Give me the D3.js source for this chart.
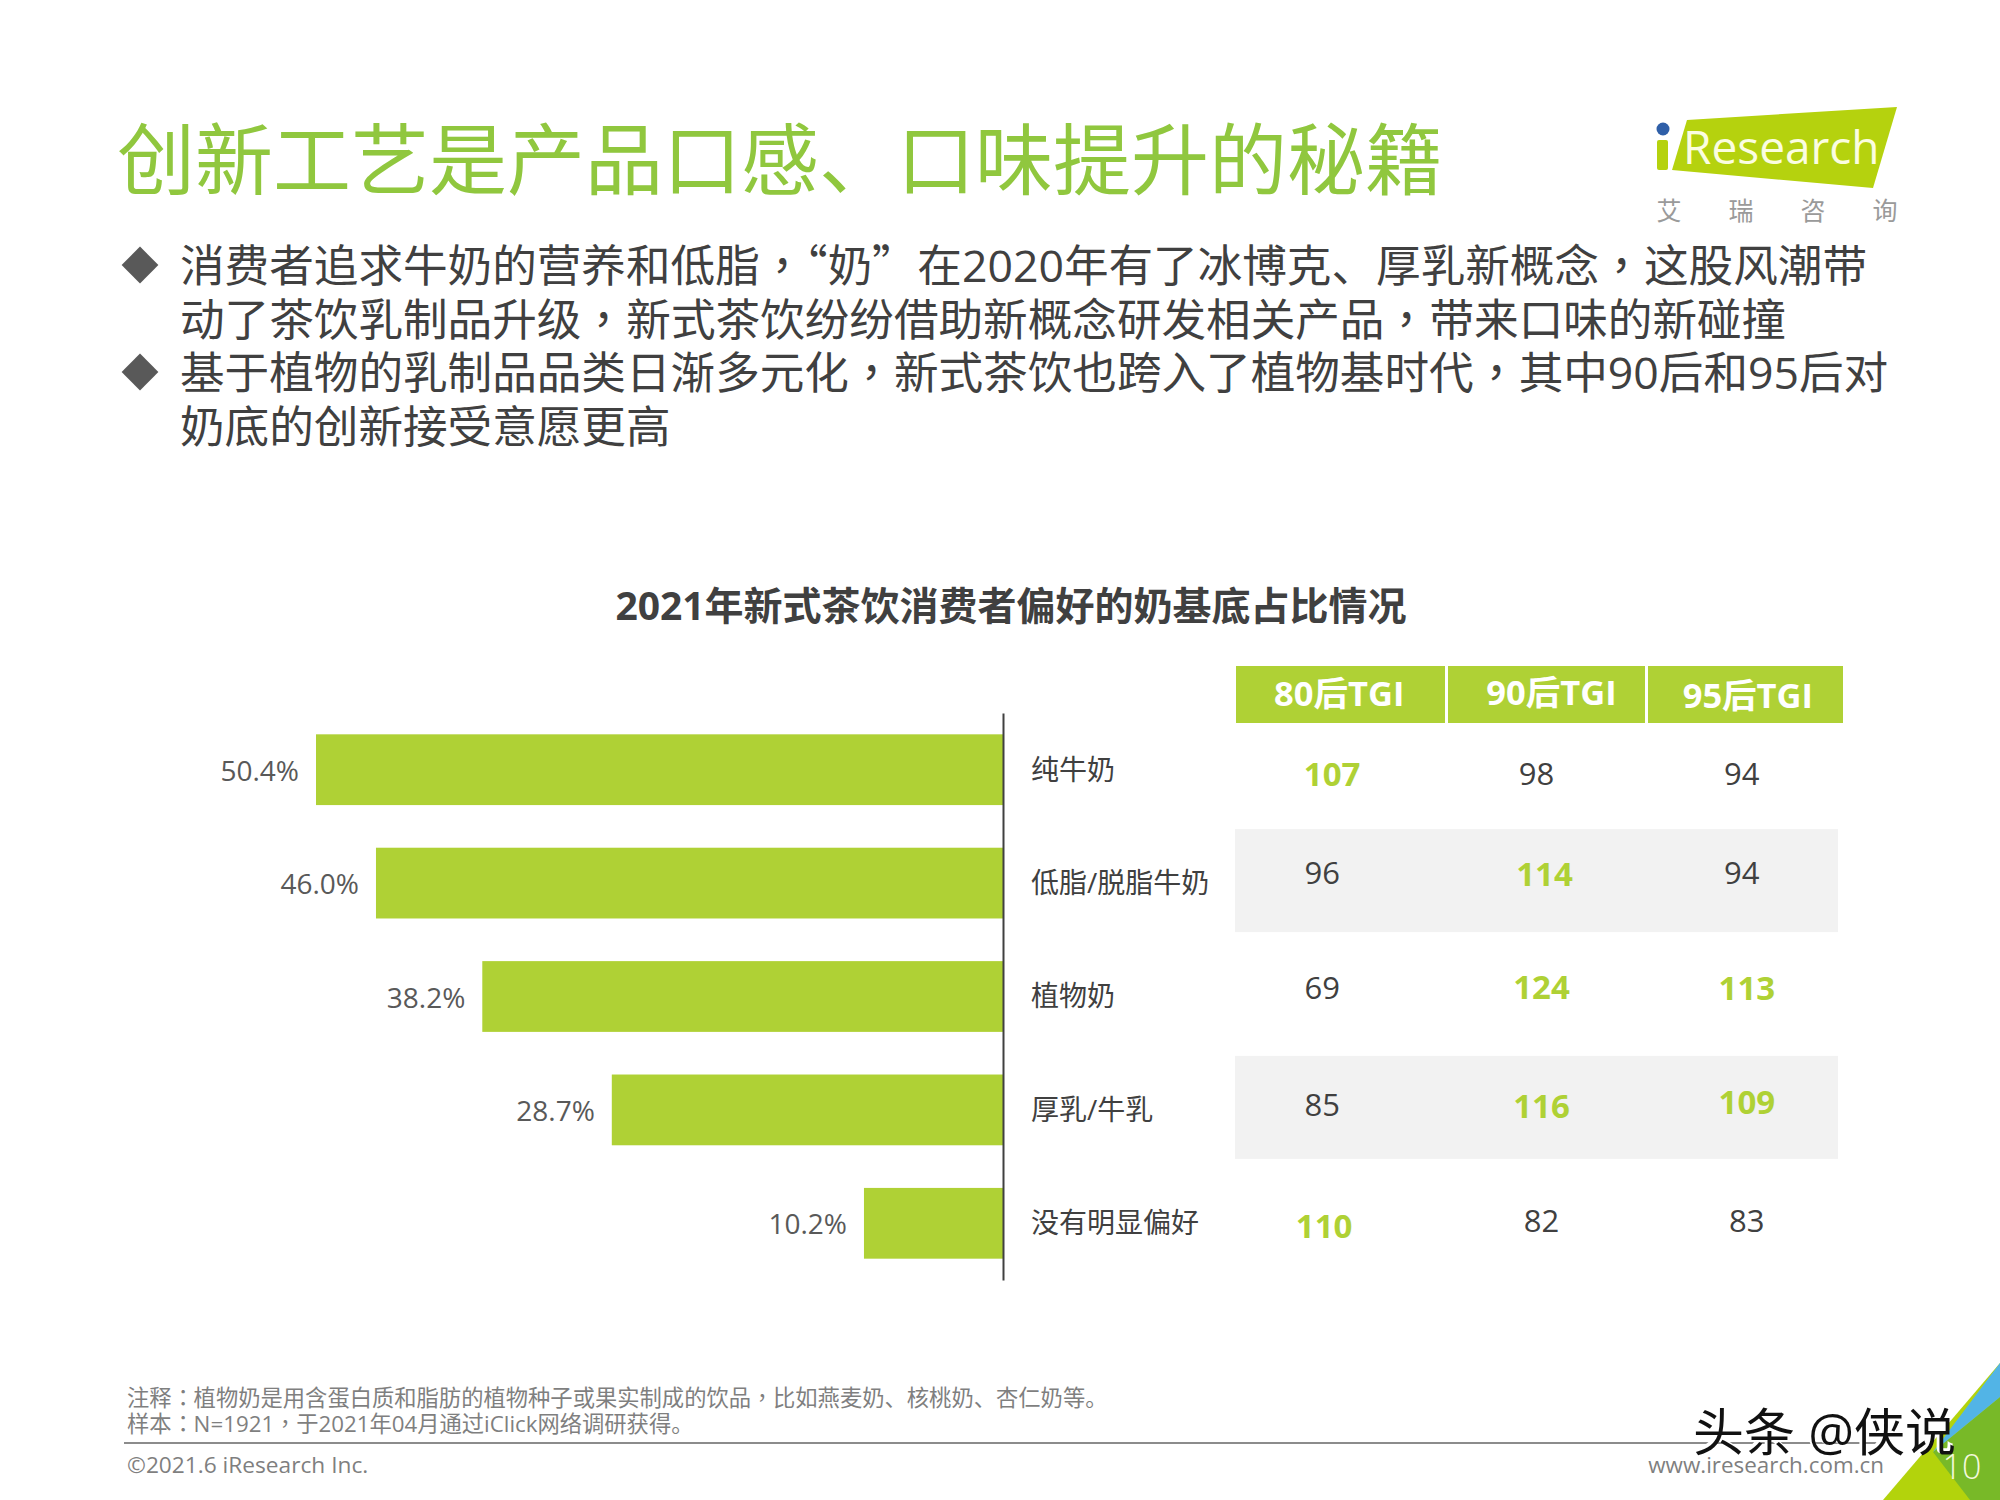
<!DOCTYPE html>
<html>
<head>
<meta charset="utf-8">
<style>
    /* the comma and colon sit centred in the cell, the quotes are full width */
    @font-face { font-family: "CentredPunct"; src: local("Noto Sans CJK TC"); unicode-range: U+FF0C, U+FF1A; }
    @font-face { font-family: "WideQuote"; src: local("Noto Sans CJK SC"); unicode-range: U+2018-201D; }
    html, body { margin: 0; padding: 0; background: #fff; }
    svg { display: block; }
    text { font-family: "CentredPunct", "WideQuote", "Open Sans", "Noto Sans CJK SC", sans-serif; }
</style>
<script src="https://cdn.jsdelivr.net/npm/d3@7/dist/d3.min.js"></script>
</head>
<body>
<svg class="chart" width="2000" height="1500"></svg>
<script>
'use strict';

// chart data
var categories = ["纯牛奶", "低脂/脱脂牛奶", "植物奶", "厚乳/牛乳", "没有明显偏好"];
var shares = [50.4, 46.0, 38.2, 28.7, 10.2];
var tgiColumns = ["80后TGI", "90后TGI", "95后TGI"];
var tgi80 = [107, 96, 69, 85, 110];
var tgi90 = [98, 114, 124, 116, 82];
var tgi95 = [94, 94, 113, 109, 83];

// page text
var pageTitle = "创新工艺是产品口感、口味提升的秘籍";
var chartTitle = "2021年新式茶饮消费者偏好的奶基底占比情况";
var bulletLines = [
    "消费者追求牛奶的营养和低脂，“奶”在2020年有了冰博克、厚乳新概念，这股风潮带",
    "动了茶饮乳制品升级，新式茶饮纷纷借助新概念研发相关产品，带来口味的新碰撞",
    "基于植物的乳制品品类日渐多元化，新式茶饮也跨入了植物基时代，其中90后和95后对",
    "奶底的创新接受意愿更高"
];
var footnotes = [
    "注释：植物奶是用含蛋白质和脂肪的植物种子或果实制成的饮品，比如燕麦奶、核桃奶、杏仁奶等。",
    "样本：N=1921，于2021年04月通过iClick网络调研获得。"
];

var GREEN = "#afd135";
var TITLE_GREEN = "#90c73e";
var TEXT_DARK = "#404040";
var TEXT_GREY = "#7f7f7f";
var AXIS_X = 1003;
var FONT_STACK = '"CentredPunct", "WideQuote", "Open Sans", "Noto Sans CJK SC", sans-serif';

// the table in the picture is hand placed, so each label keeps a small [dx, dy]
var cellNudge = [
    [[-4, 4], [-14, -10], [-14, -9], [-14, -5], [-12, 3]],
    [[-3, 4], [5, -9], [2, -9], [2, -4], [2, -2]],
    [[-1, 4], [-1, -10], [4, -8], [4, -8], [4, -2]]
];
var headerNudge = [[3, -1], [12, -2], [5, 1]];
var headerEdges = [[1236, 1445], [1448, 1645], [1648, 1843]];

var svg = d3.select(".chart");

// scales
var xScale = d3.scaleLinear().domain([0, 50.4]).range([AXIS_X, 316]);
var yScale = d3.scaleBand().domain(categories).range([713, 1280]).paddingInner(0.376).paddingOuter(0.188);
var colScale = d3.scaleBand().domain(tgiColumns).range([1236, 1843]).paddingInner(0.015);

renderHeader();
renderBullets();
renderChart();
renderTable();
renderFooter();

/**
 * Render title and the iResearch logo
 */
function renderHeader() {
    svg.append("text")
        .attr("x", 117).attr("y", 189)
        .attr("font-size", 78).attr("fill", TITLE_GREEN)
        .text(pageTitle);

    var logo = svg.append("g");
    logo.append("polygon")
        .attr("points", "1687,120 1897,107 1873,188 1672,170")
        .attr("fill", "#b5d20e");
    logo.append("rect")
        .attr("x", 1657).attr("y", 140).attr("width", 11).attr("height", 30).attr("rx", 2)
        .attr("fill", "#b5d20e");
    logo.append("circle")
        .attr("cx", 1663).attr("cy", 129).attr("r", 6.5)
        .attr("fill", "#2f5fa8");
    logo.append("text")
        .attr("x", 1683).attr("y", 164)
        .attr("font-size", 46).attr("fill", "#fbfde0")
        .text("Research");
    logo.selectAll("text.cn")
        .data(["艾", "瑞", "咨", "询"])
        .enter()
        .append("text")
        .attr("class", "cn")
        .attr("x", function (d, i) { return 1669 + i * 72; })
        .attr("y", 220)
        .attr("text-anchor", "middle")
        .attr("font-size", 25).attr("fill", "#9a9a9a")
        .text(function (d) { return d; });
}

/**
 * Render the two bullet paragraphs
 */
function renderBullets() {
    svg.selectAll("text.bullet")
        .data(bulletLines)
        .enter()
        .append("text")
        .attr("class", "bullet")
        .attr("x", 180)
        .attr("y", function (d, i) { return 282 + i * 53.7; })
        .attr("font-size", 44.6).attr("fill", TEXT_DARK)
        .text(function (d) { return d; });

    svg.selectAll("path.diamond")
        .data([265, 372])
        .enter()
        .append("path")
        .attr("class", "diamond")
        .attr("transform", function (d) { return "translate(140," + d + ") rotate(45)"; })
        .attr("d", "M-13,-13H13V13H-13Z")
        .attr("fill", "#595959");
}

/**
 * Render the bars, their value labels and the category axis
 */
function renderChart() {
    svg.append("text")
        .attr("x", 1011).attr("y", 606).attr("dy", "0.36em")
        .attr("text-anchor", "middle")
        .attr("font-size", 39).attr("font-weight", 700).attr("fill", TEXT_DARK)
        .text(chartTitle);

    var rows = svg.selectAll("g.row")
        .data(categories)
        .enter()
        .append("g")
        .attr("class", "row");

    rows.append("rect")
        .attr("x", function (d, i) { return xScale(shares[i]); })
        .attr("y", function (d) { return yScale(d); })
        .attr("width", function (d, i) { return xScale(0) - xScale(shares[i]); })
        .attr("height", yScale.bandwidth())
        .attr("fill", GREEN);

    rows.append("text")
        .attr("x", function (d, i) { return xScale(shares[i]) - 17; })
        .attr("y", function (d) { return yScale(d) + yScale.bandwidth() / 2 + 1; })
        .attr("dy", "0.36em")
        .attr("text-anchor", "end")
        .attr("font-size", 28).attr("fill", "#595959")
        .text(function (d, i) { return shares[i].toFixed(1) + "%"; });

    var axis = svg.append("g")
        .attr("transform", "translate(" + AXIS_X + ",0)")
        .call(d3.axisRight(yScale).tickSize(0).tickPadding(28));
    axis.select(".domain").attr("stroke", "#404040").attr("stroke-width", 2);
    axis.selectAll("text")
        .attr("y", 1)
        .attr("font-size", 28).attr("fill", TEXT_DARK)
        .style("font-family", FONT_STACK);
}

/**
 * Render the TGI table on the right
 */
function renderTable() {
    var rowCentre = function (c) { return yScale(c) + yScale.bandwidth() / 2; };

    // grey bands on every second row
    svg.selectAll("rect.band")
        .data([categories[1], categories[3]])
        .enter()
        .append("rect")
        .attr("class", "band")
        .attr("x", 1235)
        .attr("y", function (d) { return rowCentre(d) - 54; })
        .attr("width", 603)
        .attr("height", 103)
        .attr("fill", "#f2f2f2");

    var head = svg.selectAll("g.head")
        .data(tgiColumns)
        .enter()
        .append("g")
        .attr("class", "head");

    head.append("rect")
        .attr("x", function (d, i) { return headerEdges[i][0]; })
        .attr("y", 666)
        .attr("width", function (d, i) { return headerEdges[i][1] - headerEdges[i][0]; })
        .attr("height", 57)
        .attr("fill", GREEN);

    head.append("text")
        .attr("x", function (d, i) { return colScale(d) + colScale.bandwidth() / 2 + headerNudge[i][0]; })
        .attr("y", function (d, i) { return 695 + headerNudge[i][1]; })
        .attr("dy", "0.36em")
        .attr("text-anchor", "middle")
        .attr("font-size", 34.5).attr("font-weight", 700).attr("fill", "#fff")
        .text(function (d) { return d; });

    [tgi80, tgi90, tgi95].forEach(function (values, col) {
        svg.selectAll("text.col" + col)
            .data(values)
            .enter()
            .append("text")
            .attr("class", "col" + col)
            .attr("x", function (d, i) {
                return colScale(tgiColumns[col]) + colScale.bandwidth() / 2 + cellNudge[col][i][0];
            })
            .attr("y", function (d, i) { return rowCentre(categories[i]) + cellNudge[col][i][1]; })
            .attr("dy", "0.36em")
            .attr("text-anchor", "middle")
            // values above 100 are the highlighted ones
            .attr("font-size", function (d) { return d > 100 ? 33 : 31; })
            .attr("font-weight", function (d) { return d > 100 ? 700 : 400; })
            .attr("fill", function (d) { return d > 100 ? GREEN : TEXT_DARK; })
            .text(function (d) { return d; });
    });
}

/**
 * Render notes, footer line, page corner and the watermark
 */
function renderFooter() {
    svg.selectAll("text.note")
        .data(footnotes)
        .enter()
        .append("text")
        .attr("class", "note")
        .attr("x", 127)
        .attr("y", function (d, i) { return 1406 + i * 26; })
        .attr("font-size", 22.3).attr("fill", TEXT_GREY)
        .text(function (d) { return d; });

    svg.append("line")
        .attr("x1", 124).attr("x2", 1880).attr("y1", 1443).attr("y2", 1443)
        .attr("stroke", "#8c8c8c").attr("stroke-width", 2);

    svg.append("text")
        .attr("x", 127).attr("y", 1473)
        .attr("font-size", 22.7).attr("fill", TEXT_GREY)
        .text("©2021.6 iResearch Inc.");

    svg.append("text")
        .attr("x", 1884).attr("y", 1473)
        .attr("text-anchor", "end")
        .attr("font-size", 22.4).attr("fill", TEXT_GREY)
        .text("www.iresearch.com.cn");

    // page corner
    svg.append("polygon").attr("points", "1883,1500 2000,1363 2000,1500").attr("fill", "#b3d30c");
    svg.append("polygon").attr("points", "1933,1452 2000,1397 2000,1500 1970,1500").attr("fill", "#78b928");
    svg.append("polygon").attr("points", "1933,1452 2000,1363 2000,1397").attr("fill", "#52b4e6");
    svg.append("text")
        .attr("x", 1962).attr("y", 1479)
        .attr("text-anchor", "middle")
        .attr("font-size", 34).attr("font-weight", 300).attr("fill", "#f4f8dc")
        .text("10");

    // watermark
    svg.append("text")
        .attr("x", 1691).attr("y", 1449)
        .attr("font-size", 51).attr("fill", "#fff")
        .attr("stroke", "#fff").attr("stroke-width", 1.5)
        .text("头条 @侠说");
    svg.append("text")
        .attr("x", 1693).attr("y", 1451)
        .attr("font-size", 51).attr("fill", "#111")
        .text("头条 @侠说");
}
</script>
</body>
</html>
